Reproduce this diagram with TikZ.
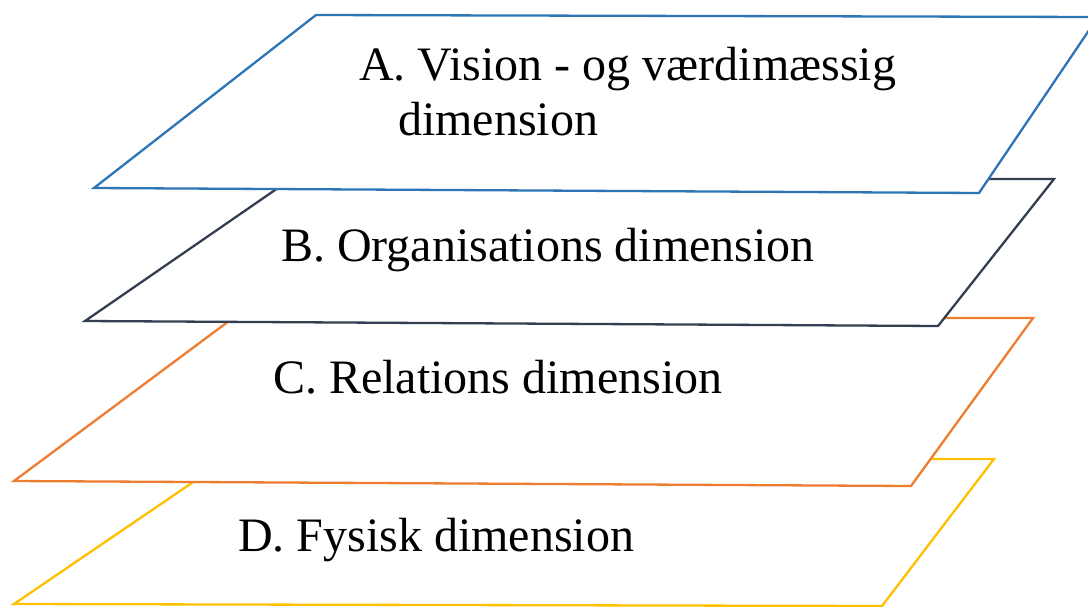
\documentclass[tikz,border=0pt]{standalone}
\usepackage{fontspec}
\setmainfont{Liberation Serif}
\definecolor{cA}{RGB}{46,117,182}
\definecolor{cB}{RGB}{51,63,80}
\definecolor{cC}{RGB}{237,125,49}
\definecolor{cD}{RGB}{255,192,0}
\begin{document}
\begin{tikzpicture}[x=1pt,y=-1pt,
  layer/.style={line width=2.3pt,line join=miter,fill=white},
  lbl/.style={anchor=base west,inner sep=0pt,font=\fontsize{48}{55}\selectfont}]
\useasboundingbox (0,0) rectangle (1088,606);
\clip (0,0) rectangle (1088,606);
% D
\coordinate (d1) at (227,459);
\coordinate (d2) at (994,459);
\coordinate (d3) at (882,606);
\coordinate (d4) at (14,604);
\draw[layer,draw=cD] (d1) -- (d2) -- (d3) -- (d4) -- cycle;
% C
\coordinate (c1) at (233,318);
\coordinate (c2) at (1033,318);
\coordinate (c3) at (911,486);
\coordinate (c4) at (14,481);
\draw[layer,draw=cC] (c1) -- (c2) -- (c3) -- (c4) -- cycle;
% B
\coordinate (b1) at (291,179);
\coordinate (b2) at (1054,179);
\coordinate (b3) at (938,326);
\coordinate (b4) at (85,321);
\draw[layer,draw=cB] (b1) -- (b2) -- (b3) -- (b4) -- cycle;
% A
\coordinate (a1) at (316,15);
\coordinate (a2) at (1098,17);
\coordinate (a3) at (979,193);
\coordinate (a4) at (94,188);
\draw[layer,draw=cA] (a1) -- (a2) -- (a3) -- (a4) -- cycle;
% labels
\node[lbl] (tA1) at (359,80) {A. Vision - og værdimæssig};
\node[lbl] (tA2) at (398,135) {dimension};
\node[lbl] (tB) at (281,261) {B. Organisations dimension};
\node[lbl] (tC) at (273,393) {C. Relations dimension};
\node[lbl] (tD) at (238,551) {D. Fysisk dimension};
\end{tikzpicture}
\end{document}
